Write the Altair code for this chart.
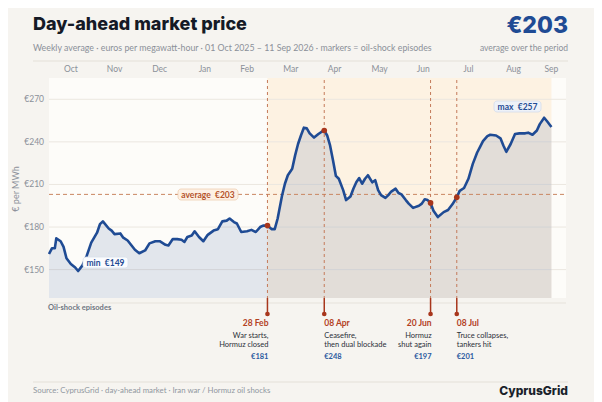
import altair as alt
import pandas as pd

# ---------------- data ----------------
START = "2025-10-01"

day_offsets = [0, 2, 4, 5, 8, 10, 12, 15, 18, 20, 23, 26, 29, 33, 35, 37, 41, 43, 45, 49,
               51, 54, 59, 62, 66, 69, 73, 76, 80, 82, 85, 88, 91, 93, 95, 98, 100, 103, 106, 109,
               113, 116, 119, 122, 124, 127, 129, 132, 136, 139, 142, 145, 147, 150, 153, 155, 157, 160, 162, 164,
               167, 169, 171, 173, 175, 177, 179, 182, 185, 187, 189, 191, 193, 195, 197, 199, 202, 204, 207, 209,
               211, 213, 215, 217, 219, 222, 224, 226, 228, 231, 233, 235, 238, 240, 242, 245, 247, 250, 254, 256,
               258, 260, 262, 264, 267, 271, 274, 277, 280, 282, 285, 288, 291, 294, 296, 298, 301, 303, 307, 310,
               312, 314, 317, 320, 323, 327, 329, 332, 335, 337, 340, 342, 345]
prices = [161, 165, 165, 172, 170, 166, 158, 154, 151.5, 149, 153, 160, 169, 176, 182, 184, 179, 177.5, 175, 175.5,
          172.5, 170.5, 164, 161.5, 163.5, 168.5, 170, 170, 167.5, 167, 171.5, 171.5, 171, 169.5, 173, 174, 177, 173, 170, 174.5,
          177.5, 178.5, 184, 184.5, 186, 183.5, 182.5, 176.5, 177, 178, 176.5, 180, 181, 181, 178.5, 178.5, 186, 202, 210.5, 216.5,
          221, 230.5, 238.5, 244.5, 250, 249.5, 246, 243, 245.5, 247, 248, 244.5, 237.5, 227, 216, 214, 206, 199, 201.5, 207,
          211.5, 214.5, 210.5, 214, 216.5, 211.5, 213, 206, 202.5, 200.5, 202.5, 205, 207, 204, 203, 199, 196.5, 193.5, 195, 196.5,
          199.5, 199, 197, 191.5, 187, 190.5, 192, 196, 201, 205.5, 207.5, 214, 224.5, 232.5, 236.5, 240.5, 244, 245, 244.5, 242.5,
          237.5, 233, 238.5, 245.5, 246, 246, 246.5, 245, 248, 252.5, 257, 254.5, 250.5]

average_price = 203

episode_dates = ["2026-02-28", "2026-04-08", "2026-06-20", "2026-07-08"]
episode_labels = ["28 Feb", "08 Apr", "20 Jun", "08 Jul"]
episode_line1 = ["War starts,", "Ceasefire,", "Hormuz", "Truce collapses,"]
episode_line2 = ["Hormuz closed", "then dual blockade", "shut again", "tankers hit"]
episode_values = [181, 248, 197, 201]
episode_side = ["right", "left", "right", "left"]
band_end = "2026-09-11"

month_names = ["Oct", "Nov", "Dec", "Jan", "Feb", "Mar", "Apr", "May", "Jun", "Jul", "Aug", "Sep"]
month_label_dates = ["2025-10-16", "2025-11-15", "2025-12-16", "2026-01-16", "2026-02-14", "2026-03-16",
                     "2026-04-15", "2026-05-16", "2026-06-15", "2026-07-16", "2026-08-16", "2026-09-11"]

y_ticks = [150, 180, 210, 240, 270]
y_tick_labels = ["€150", "€180", "€210", "€240", "€270"]
y_domain = [130, 285]

TITLE = "Day-ahead market price"
SUBTITLE = "Weekly average  ·  euros per megawatt-hour  ·  01 Oct 2025 – 11 Sep 2026  ·  markers = oil-shock episodes"
BIG_NUMBER = "€203"
BIG_NUMBER_NOTE = "average over the period"
Y_TITLE = "€ per MWh"
EPISODES_TITLE = "Oil-shock episodes"
SOURCE = "Source: CyprusGrid  ·  day-ahead market  ·  Iran war / Hormuz oil shocks"
BRAND = "CyprusGrid"
AVG_LABEL = "average\u2002€203"
MIN_LABEL = "min\u2002€149"
MAX_LABEL = "max\u2002€257"

# ---------------- tables ----------------
start = pd.Timestamp(START)
series = pd.DataFrame({
    "date": start + pd.to_timedelta(day_offsets, unit="D"),
    "price": prices,
})
series["base"] = y_domain[0]

episodes = pd.DataFrame({
    "date": pd.to_datetime(episode_dates),
    "label": episode_labels,
    "l1": episode_line1,
    "l2": episode_line2,
    "value": episode_values,
    "vtxt": ["€" + str(v) for v in episode_values],
    "side": episode_side,
})
band = pd.DataFrame({"start": [pd.Timestamp(episode_dates[0])], "end": [pd.Timestamp(band_end)]})
months = pd.DataFrame({"date": pd.to_datetime(month_label_dates), "m": month_names})
ticks = pd.DataFrame({"v": y_ticks, "t": y_tick_labels})
avg_df = pd.DataFrame({"v": [average_price]})
one = pd.DataFrame({"a": [0]})

# ---------------- style ----------------
FONT = "Lato"
HEAVY = "Inter"
BG = "#f6f4f0"
PLOT_BG = "#fdfcf9"
BAND = "#fdf2e2"
BLUE = "#1f4b94"
RED = "#a8361c"
GRAY = "#8b9099"

PX0, PX1 = 41, 558
PY0, PY1 = 70, 290

XS = alt.Scale(domain=[alt.DateTime(year=2025, month=10, date=1),
                       alt.DateTime(year=2026, month=9, date=21)], range=[PX0, PX1])
YS = alt.Scale(domain=y_domain, range=[PY1, PY0], zero=False, nice=False)


def X(field="date"):
    return alt.X(f"{field}:T", scale=XS, axis=None)


def Y(field):
    return alt.Y(f"{field}:Q", scale=YS, axis=None)


def txt(s, x, y, size, color, weight="normal", align="left", angle=0, font=FONT):
    kw = dict(text=s, align=align, baseline="middle", fontSize=size, color=color,
              fontWeight=weight, font=font)
    if angle:
        kw["angle"] = angle
    return alt.Chart(one).mark_text(**kw).encode(x=alt.value(x), y=alt.value(y))


def hrule(x0, x1, y, color, width=1):
    return alt.Chart(one).mark_rule(color=color, strokeWidth=width).encode(
        x=alt.value(x0), x2=alt.value(x1), y=alt.value(y))


def box(x0, x1, y0, y1, fill, stroke):
    return alt.Chart(one).mark_rect(fill=fill, stroke=stroke, strokeWidth=0.8, cornerRadius=3).encode(
        x=alt.value(x0), x2=alt.value(x1), y=alt.value(y0), y2=alt.value(y1))


layers = []

layers.append(alt.Chart(one).mark_rect(color=PLOT_BG).encode(
    x=alt.value(PX0), x2=alt.value(PX1), y=alt.value(PY0), y2=alt.value(PY1)))
layers.append(alt.Chart(band).mark_rect(color=BAND).encode(
    x=X("start"), x2="end:T", y=alt.value(PY0), y2=alt.value(PY1)))

layers.append(alt.Chart(ticks).mark_rule(color="#ebe7e0", strokeWidth=1).encode(
    y=Y("v"), x=alt.value(PX0), x2=alt.value(PX1)))
layers.append(alt.Chart(ticks).mark_text(align="right", baseline="middle", fontSize=8.5,
                                         color=GRAY, font=FONT).encode(
    y=Y("v"), x=alt.value(36), text="t:N"))
layers.append(txt(Y_TITLE, 8, 181, 9, GRAY, angle=270, align="center"))

layers.append(alt.Chart(months).mark_text(align="center", baseline="middle", fontSize=8.5,
                                          color=GRAY, font=FONT).encode(
    x=X(), y=alt.value(61), text="m:N"))

layers.append(alt.Chart(series).mark_area(color=BLUE, opacity=0.12).encode(
    x=X(), y=Y("price"), y2="base:Q"))
layers.append(alt.Chart(avg_df).mark_rule(color="#c98660", strokeDash=[4, 3], strokeWidth=1).encode(
    y=Y("v"), x=alt.value(PX0), x2=alt.value(PX1)))
layers.append(alt.Chart(episodes).mark_rule(color="#c47a5a", strokeDash=[3, 3], strokeWidth=1).encode(
    x=X(), y=alt.value(72), y2=alt.value(PY1)))
layers.append(alt.Chart(series).mark_line(color=BLUE, strokeWidth=2.6, strokeJoin="round").encode(
    x=X(), y=Y("price")))
layers.append(alt.Chart(episodes).mark_point(filled=True, color=RED, size=32, opacity=1).encode(
    x=X(), y=Y("value")))

layers.append(box(170, 230, 181, 192, "#fdf0e4", "#efcfb3"))
layers.append(txt(AVG_LABEL, 200, 186.5, 8.5, "#b5532a", weight="bold", align="center"))
layers.append(box(75, 120, 249, 260, "#fbfcfe", "#d9e1ec"))
layers.append(txt(MIN_LABEL, 97.5, 254.5, 8.5, BLUE, weight="bold", align="center"))
layers.append(box(486, 533, 93, 104, "#eef2f8", "#d3dceb"))
layers.append(txt(MAX_LABEL, 509.5, 98.5, 8.5, BLUE, weight="bold", align="center"))

layers.append(hrule(PX0, PX1, 295, "#e6e2db"))
layers.append(txt(EPISODES_TITLE, 40, 299.5, 7.5, "#6f7682", weight="bold"))
layers.append(alt.Chart(episodes).mark_rule(color=RED, strokeWidth=1.5).encode(
    x=X(), y=alt.value(PY1), y2=alt.value(306)))
layers.append(alt.Chart(episodes).mark_point(filled=True, color=RED, size=22, opacity=1).encode(
    x=X(), y=alt.value(306)))

for side, dx in (("right", 1), ("left", 0)):
    base = alt.Chart(episodes).transform_filter(alt.datum.side == side)
    layers.append(base.mark_text(align=side, baseline="middle", fontSize=8.5, fontWeight="bold",
                                 color="#b3411f", font=FONT, dx=dx).encode(
        x=X(), y=alt.value(315), text="label:N"))
    layers.append(base.mark_text(align=side, baseline="middle", fontSize=7.5, color="#2b2f38",
                                 font=FONT, dx=dx).encode(x=X(), y=alt.value(328), text="l1:N"))
    layers.append(base.mark_text(align=side, baseline="middle", fontSize=7.5, color="#2b2f38",
                                 font=FONT, dx=dx).encode(x=X(), y=alt.value(336.5), text="l2:N"))
    layers.append(base.mark_text(align=side, baseline="middle", fontSize=7.5, fontWeight="bold",
                                 color="#2c5aa0", font=FONT, dx=dx).encode(
        x=X(), y=alt.value(349), text="vtxt:N"))

layers.append(txt(TITLE, 25, 17, 18, "#151a26", weight=800, font=HEAVY))
layers.append(txt(BIG_NUMBER, 560, 18, 23, BLUE, weight=800, align="right", font=HEAVY))
layers.append(txt(SUBTITLE, 25, 40, 8.8, GRAY))
layers.append(txt(BIG_NUMBER_NOTE, 560, 40, 8.5, GRAY, align="right"))
layers.append(hrule(25, 560, 53, "#e4e0d8"))

layers.append(hrule(25, 560, 374, "#e4e0d8"))
layers.append(txt(SOURCE, 25, 383, 7.8, "#9097a0"))
layers.append(txt(BRAND, 560, 383, 12, "#1a1f2b", weight=800, align="right", font=HEAVY))

chart = alt.layer(*layers).properties(
    width=586, height=394, padding=0, autosize="none", background=BG
).configure_view(stroke=None)

chart.save("out.html", embed_options={"renderer": "svg", "actions": False})
